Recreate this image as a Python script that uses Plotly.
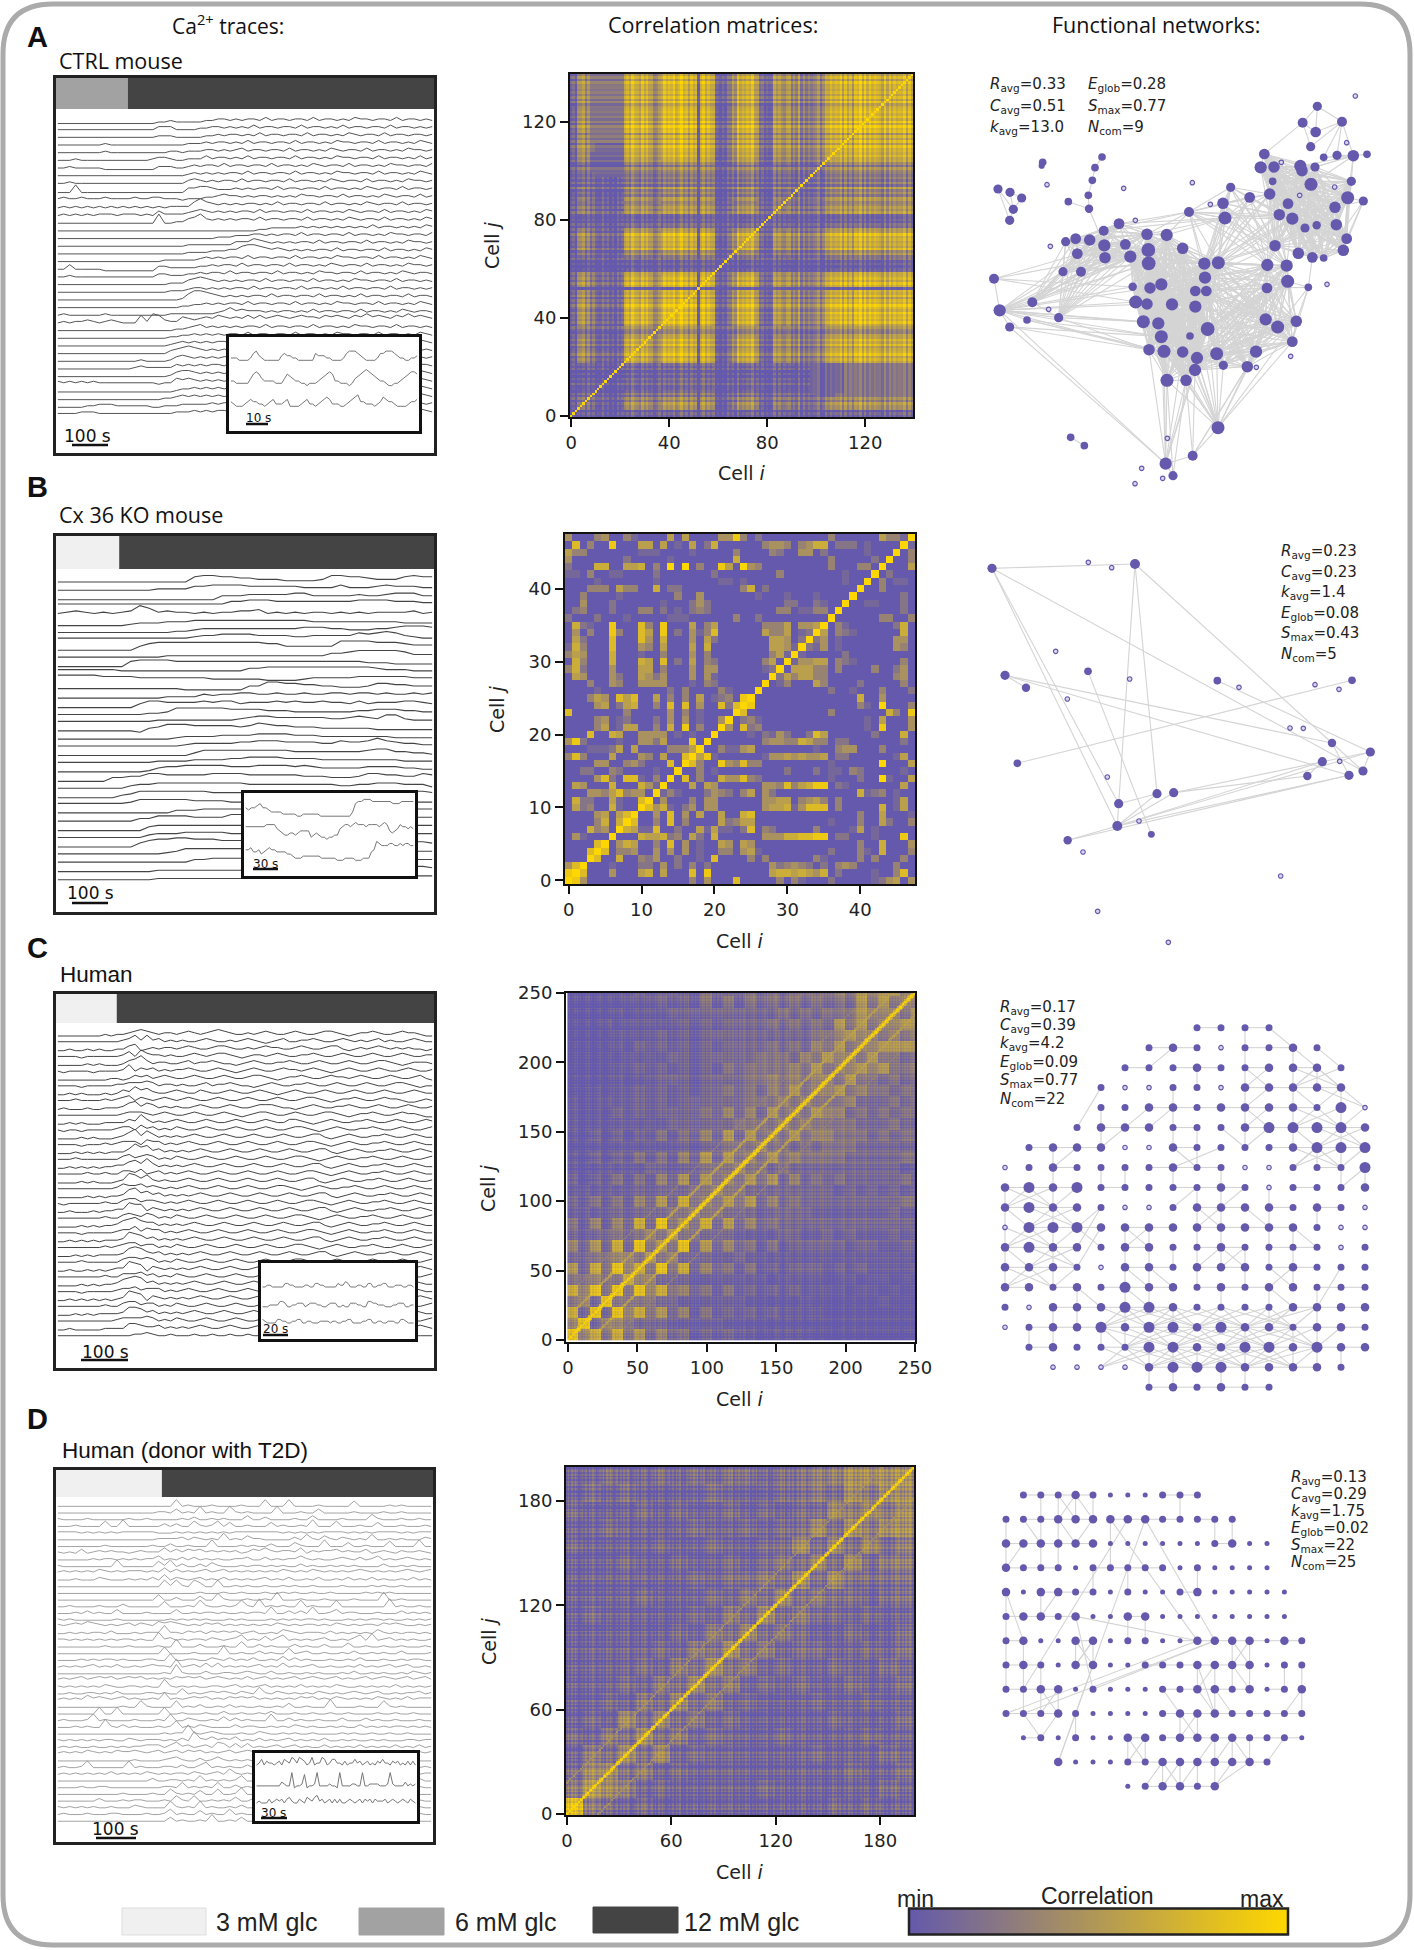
"""Islet Ca2+ traces, correlation matrices and functional networks."""

import numpy as np
import plotly.graph_objects as go

W, H = 1414, 1950
PURPLE = "#6459AC"
GOLD = "#FFD700"
EDGE = "#D4D4D4"
GLC_COLORS = {3: "#F0F0F0", 6: "#A2A2A2", 12: "#444444"}

# ---- Ca2+ traces, one digit string per cell, digit = signal level
TRACES_A = [
    "1111111111111111122322222334434344353443443534434354434435344343",
    "2222222222222222244422223344343435344344353443435344344353443434",
    "2222222222222222233322222334344343534434435344343543443534434434",
    "2222222232222222222222333434434353443443534434354434435344343543",
    "2222222232222222222332333443434534434435344343543443534434354434",
    "2223222222222222344322333534434353443443534434354434435344343534",
    "2232222211111111133322343443534434435344343543443534434354434435",
    "2222222222222222222222343434344353443443534434354434435344343543",
    "2232222222222222222222454343443534434435344343543443534434354434",
    "1116111111111111111111445543334343443534434435344343543443534434",
    "2322322232222322332221222334544343443434354434435344343543443534",
    "1212121212121212121222257543434344343534434435344343543443534434",
    "1212121222122212142222345434343443534434435344343543443534434354",
    "1111111111111111171122457434343443534434435344343543443534434354",
    "1111111111111111111111111111111111223333343434343434353443434354",
    "1111111111111111111111111112223334434344353443443534434354434435",
    "1111111111111111111111222222224446543434344353443443534434354434",
    "1111111111111111111111222233344677654543434344353443443534434354",
    "1111111111111111112222223434344353443443534434354434435344343543",
    "1141111100000000033222223343443534434435344343543443534434354434",
    "1121111111111111133222334344353443443534434354434435344343543443",
    "1111111111111111111222456543434344353443443534434354434435344343",
    "1111111111111111111222344343434435344344353443435344344353443434",
    "1111111111111111111112577654343434435344344353443435344344353443",
    "1111111111111111111112233434344353443443534434354434435344343543",
    "1211111121111111111222222223464544434344343534434435344343543443",
    "1212232123211162763225434546545464645654565546565465756546575654",
    "1111111111111111111122345343434344353443443534434354434435344343",
    "1111111111111111111223343434344353443443534434354434435344343543",
    "1111111111111111111234343434434353443443534434354434435344343543",
    "1111111111111111111345654343434344353443443534434354434435344343",
    "1111111111111121111245434343443534434435344343543443534434354434",
    "1111111111111232222243434344353443443534434354434435344343543443",
    "1111111111111111111245543434344353443443534434354434435344343543",
    "3232323222222222212254543434344353443443534434354434435344343543",
    "1111111111111111111123343434344353443443534434354434435344343543",
    "1111111111111111112234343434344353443443534434354434435344343543",
    "1111122333222222112223333343443534434435344343543443534434354434",
    "2222333222222222222233343434434353443443534434354434435344343543",
]
TRACES_B = [
    "222222222222222677665544433334776654446766",
    "222222222223333556666555555444464445655544",
    "111111111111111111444555556644444544566644",
    "444444444444444444466777666666666777766655",
    "345434345974544343445563434344343434444534",
    "000000001222333444444444444433333333332222",
    "111111111111122344444444444555443334456665",
    "333333333333333455666655554455555767875433",
    "000000000356666666666665533333377776665444",
    "111111111111222222222222222222445666665333",
    "000000004555544444444444444444444433322222",
    "444444433333333333333556666666666665444333",
    "666665555444444443333332222344444555555444",
    "222222222222221111111447766554433346655444",
    "111111111111222243445544544544554554544545",
    "000000000355444454553444545445443534445543",
    "111111111122366666655554443333333445554433",
    "222222222223333333334566555555445654774333",
    "111111111034666555554576554443333332222222",
    "111111111111123333444455554443333333322222",
    "222222222222223444445566655554465568654433",
    "111111111111111355555555554444444456644332",
    "222222222223333444455666655554444444443333",
    "111111111124556666655566665654444455554433",
    "000000334466555556666555555444333466554465",
    "111111113445555555555444444444433445554442",
    "000000023555555554444444444445555444445554",
    "222222223555555444433333333333333333333333",
    "111111111111133344444444555554444444444444",
    "111111111335555444466555444444444444444444",
    "000000000034444444444444444444444444444444",
    "111111111134445555544444444444444444444444",
    "000000000356677666555555554444444444444443",
    "111111111111235555555555444444444433333333",
    "111111111111111334444444444444444433333333",
    "000000000001111111111111134566555444444443",
    "000000000001111111111111113344444444433333",
]
TRACES_C = [
    "2222222232334565434434543456543343454334543345543234454334544322",
    "3333333333345747453434334543343454323453344543345434345343345433",
    "2232232322335623434434543345543343454433454334553234345434343323",
    "3333233333346375443433454345543234434543344543345433454334543344",
    "2222232322235685344334534454332345433445433454334543345543234443",
    "3233332333347354534344543345432345433454434543234543345433454334",
    "2222222223323545345433454334543345543234454334544345433454334532",
    "3333233333445556534434334534454332345433445433454334543345543233",
    "2232322232354756433454335433454334543234543345433454334543345433",
    "3334333343456354345434543345433454334543345543234454334544322343",
    "2322232233346746534343345433454334555433234543344543345433454334",
    "3333333333345554345433454334543234554334543345543234454334544322",
    "2232322233335485343454334543345433454335543234543344543345433454",
    "3233233333455364534354334543345433454334554323454334454334543345",
    "2222323222346847534343454334543345433454334553234543344543345433",
    "3333233343455536553434543345433454334543345543234543344543345433",
    "2223232323335867453434345433454334543345433455323454334454334543",
    "3334333333356456534354334543345433454334554323454334454334543345",
    "2232323233446758534343454334543345433454334553234543344543345433",
    "3333343343355463453434543345433454334543345543234543344543345433",
    "2222323222348757434334543345433454334543345532345433445433454334",
    "3333333333465564543434543345433454334554323454334454334543345433",
    "2222232323347856453434345433454334543345433455323454334454334543",
    "3233333343356645543434543345433454334543345543234543344543345433",
    "2232223233448773543434345433454334543345433455323454334454334543",
    "3333333343356546534354334543345433454334554323454334454334543345",
    "2222323233467865534343454334543345433454334553234543344543345433",
    "3333233333455746553434543345433454334543345543234543344543345433",
    "2232323233348764534343454334543345433454334553234543344543345433",
    "3333333343456645534354334543345433454334554323454334454334543345",
    "2223232333347875453434345433454334543345433455323454334454334543",
    "3333433333356656534354334543345433454334554323454334454334543345",
    "2232232323448762543434345433454334543345433455323454334454334543",
    "3333333343355564534354334543345433454334554323454334454334543345",
    "2222323233467874534343454334543345433454334553234543344543345433",
    "3333233333455645553434543345433454334543345543234543344543345433",
    "2232323232348762543434345433454334543345433455323454334454334543",
    "3333333343356645534354334543345433454334554323454334454334543345",
    "2223232333347764534343454334543345433454334553234543344543345433",
    "3333333333455556534354334543345433454334554323454334454334543345",
    "2232222233336654453434345433454334543345433455323454334454334543",
    "3333333333333445433433343343343343343343343343343343343343343333",
]
TRACES_D = [
    "1111111111111111111161211121111211161116111121111151111121211111",
    "1111111111111111122141216121162121111611121141111121111211211111",
    "2111121111112112111112131121211141131111211411112111152111211211",
    "1112111151161111113131152125141121114121121611151112114111211121",
    "2222121212122222211121212121212222222212121212222121212222121222",
    "1111111111111111122223132121612142211111315214213212151121211132",
    "1111111121111111211311211161111212113111421116111411211151111611",
    "2121412323221232225242434232323124353233251323342322412321322321",
    "1111112122121212241213131212112231131212242121123213124121232121",
    "2111111111611111152613113142111212212121131211212121111311212111",
    "2323232432323332325242323423423232323243232432323234323232343234",
    "1112111321112121315132123121312121231213112131121312131211213121",
    "1111111111111111116262164116112121121121211211112111121211211111",
    "1111111111111111111111112111211211121121211211211111212121111111",
    "1111111111111111151131114116211121121711121112111121111711211111",
    "1121111211131111115111216211212621712121161211161111111171211211",
    "1112131211411112111141121221211212216113131611241221112111312121",
    "2121111111211111111212121211121211112121212212111212122121121212",
    "3234354323234243254543232434232323232432323323243232332434322323",
    "1121212213111212227221323132323123112143212221312121214212122121",
    "2212121212122121172312122132123512141351212123112135161231212112",
    "1111111121112111121171113111211511312111312113111411211211211121",
    "1111111111111111116111121111711211312115123112112131121211311112",
    "1111212122121112211611221132131213112141312111211213111211212211",
    "1212123121311212322171231414121212312141212311211213121231231121",
    "1111111111111111112182111311221232113112112121112131121211213212",
    "2323423434234342323243434234323242342323423432342323423432342342",
    "2121212132112212117212121122123121231212131212132112121213121212",
    "1121122121311112212115121232321321621321212132121232123112122312",
    "2323253432342322327232343423243434232323243423243232324323242333",
    "1111111111121162111161213112131211211214112111711112111621211111",
    "1111111611611111116112111211311211213111211211211211112112112111",
    "1211126121111211121611321121413121116113121121113111312112111211",
    "1112121172131211121261213211113122112121321211212113121212212121",
    "1111111111111111112122821232111211321121211211112121121121121111",
    "2121212122113212221213183242324121312123121213112121121211122122",
    "1212112112121223331352312315414141212312312113121213121213121312",
    "2323243232433432342342434232342343432323234234323232432323234323",
    "1111111111111211112342113124212121312132112121131212113121212111",
    "1211261111116121112213113512121131212121521121231312121213112121",
    "1212121213121213212122132123152121212321213121312123112131212122",
    "1111111111111111311221215121212511211131121211212131211213211311",
    "1111211221111111112215121215113121511212512123123121125121211211",
    "1111111111121111211521214115112611211211511216121151111231211111",
    "1111111311121221112152151121214113112151212151121311123112111211",
    "2121212112111321111621216121121311251131216121211512121312121211",
    "1211121112211112112512114121151211215112612112511212125121121211",
    "1111111111111111111412112161121411611216121115121121611211211111",
]

# three enlarged traces of each inset
INSET_A = [
    "3332222356432222224544332222225444332222356665432222355666543322334",
    "3322222467643333222465433221222345676332221245678765433211223456776",
    "4322234544332345333452222345332345653332234567443332346544322223445",
]
INSET_B = [
    "54556755433332222211222222111111111113788999888888877788888",
    "66666666777754322332344441232110112256776787776777767874345766565",
    "55644534565544443321112222222111111000111100011145987778877878877",
]
INSET_C = [
    "3344333335544333344335544333335446533344335533445533344433443",
    "2223333554223344423444332234442232244433225544333222334442233",
    "5433335544334455334433344443443344553333445533443344433554333",
]
INSET_D = [
    "3463544345365476476534734476346644353446453453435464435453435353",
    "2222222222432291223812239222232219222233229223333222393222242323",
    "3433353454535643354365467453453535334543453545354445345434543543",
]

# ---- glucose protocol: (sample where it switches, first level, second level)
GLC_A = (11.4, 6, 12)
GLC_B = (10.0, 3, 12)
GLC_C = (9.6, 3, 12)
GLC_D = (17.0, 3, 12)

# ---- correlation matrices
# A: per-cell activity level read along the axis as (run length, level)
LEVEL_A = [(3, 1), (1, 5), (2, 6), (1, 5), (1, 4), (1, 2), (2, 3), (3, 1), (4, 2), (4, 1),
           (10, 8), (1, 7), (1, 6), (1, 5), (2, 4), (10, 9), (5, 8), (1, 1), (5, 8), (1, 6),
           (1, 3), (5, 1), (1, 3), (1, 5), (1, 6), (8, 8), (1, 5), (1, 3), (5, 1), (1, 5),
           (1, 7), (1, 5), (1, 6), (1, 3), (1, 7), (1, 6), (1, 3), (3, 5), (1, 3), (5, 3),
           (3, 4), (2, 6), (10, 8), (1, 6), (10, 9), (14, 8)]
STRIPE_A = ("4725361847254936152847362954183746259173648259371846259374815263"
            "9471825364917283645918273645192837465912837465918273649182736451"
            "928374659182736")
# darker rectangles of A: cell i from, to, cell j from, to, value
PATCHES_A = [(100, 140, 8, 22, 0.20), (100, 108, 8, 22, 0.08), (98, 112, 10, 22, 0.08)]

# B: off-diagonal cells per row j, "i:level"
ROWS_B = {
    47: "0:4 4:3 5:4 8:3 9:1 14:5 16:5 21:4 22:4 23:8 24:3 26:2 36:3 43:5 44:3 45:3 46:1",
    46: "1:7 3:3 6:8 10:5 11:5 13:5 15:1 17:5 19:2 20:6 27:3 28:4 29:4 30:3 32:3 33:4 34:6 35:6 37:2 38:2 39:2 41:1",
    45: "0:5 1:3 2:3 10:1 11:1 12:1 17:1 23:3 28:3 29:2 32:4 33:4 35:2 41:1",
    44: "0:4 8:2 14:1 23:6 36:3 42:2",
    43: "0:2 4:6 5:6 8:5 9:5 10:6 12:3 14:9 16:9 18:3 21:8 22:5 24:9 25:4 26:3 36:3 40:3 41:3",
    42: "0:1 1:1 3:3 6:1 7:1 12:2 20:2 29:3 38:1",
    41: "4:1 12:1 21:1 22:1 24:1 38:1",
    40: "3:3 4:3 5:3 7:5 8:3 9:3 12:6 14:2 15:2 24:3 25:6 27:2",
    39: "2:3 7:1 15:3 18:4 26:1 30:1 34:1",
    38: "2:4 6:2 13:1 17:2 18:4 19:2 30:2 31:2 34:2 35:1",
    37: "1:2 2:3 6:2 10:3 11:3 13:2 15:1 17:2 18:3 19:2 29:3 30:3 32:1 33:1 34:3 35:3",
    36: "0:2 4:2 8:1 14:1 15:1 16:1 23:3 26:2",
    35: "1:6 2:2 3:1 6:8 10:7 11:3 13:8 17:5 19:3 20:5 27:3 28:3 29:3 30:5 32:4 33:4 34:5",
    34: "1:4 3:3 6:8 7:3 10:7 11:5 13:8 15:2 17:4 18:1 19:3 20:7 27:5 28:3 29:3 30:5 32:1 33:2",
    33: "1:5 2:2 6:7 10:7 11:4 13:6 17:4 19:5 20:2 28:5 29:5 30:4 32:2",
    32: "0:1 1:6 2:3 6:7 10:4 11:3 13:5 17:5 19:6 28:5 29:5 30:4 31:1",
    31: "0:3 1:5 2:4 6:6 10:1 13:3 17:4 19:3 28:3 29:5 30:1",
    30: "1:6 2:3 6:6 10:6 11:5 13:7 15:2 17:5 19:3 20:2 27:3 28:5",
    29: "0:3 1:6 2:2 6:4 10:5 11:5 13:3 17:4 19:4 20:4 27:1 28:2",
    28: "1:5 2:4 6:4 7:2 10:5 11:4 12:2 13:4 17:4 19:4 20:1",
    27: "3:3 6:4 7:3 10:4 11:4 12:4 13:4 17:1 19:3 20:2",
    26: "4:1 14:2 16:3 21:3 22:1",
    25: "3:3 4:5 5:4 7:7 8:5 9:7 12:5 14:3 16:3 18:5 20:1 21:2 22:3 24:8",
    24: "4:4 5:5 7:2 8:5 9:6 12:3 14:7 16:7 18:4 21:7 22:2 23:7",
    23: "0:7 8:3 14:4 16:3 18:1",
    22: "4:3 5:4 7:1 8:2 12:2 14:4 16:4 18:1 21:4",
    21: "4:3 5:5 7:1 8:5 9:5 12:3 14:6 16:8 18:3",
    20: "3:7 6:6 7:5 10:4 11:4 12:4 13:4 15:1 17:1",
    19: "0:4 1:8 2:2 7:1 10:4 11:4 12:2 13:5 17:8",
    18: "3:1 4:1 5:1 6:2 7:5 9:5 14:3 15:3 16:3 17:5",
    17: "0:3 1:7 2:3 6:5 10:4 11:3 13:5 16:7",
    16: "4:4 5:4 8:3 9:4 10:2 14:7",
    15: "2:2 3:2 6:3 7:2 12:1",
    14: "4:4 5:7 6:2 8:7 9:7 10:1 12:3",
    13: "1:5 2:4 6:6 10:6 11:4 12:1",
    12: "3:4 4:4 5:3 6:5 7:7 8:3 9:4 10:4",
    11: "1:6 2:2 3:2 6:5 7:1 10:7",
    10: "1:5 2:2 3:3 6:6 7:1",
    9: "4:4 5:5 7:5 8:7",
    8: "4:3 5:6 7:6",
    7: "3:6 4:3 5:4",
    6: "1:4 2:1",
    5: "4:7",
    4: "3:7",
    2: "0:4 1:7",
    1: "0:8",
}

# C: lower triangle of 8-cell blocks
BLOCKS_C = [
    "8", "58", "738", "4538", "75848", "445447", "6374857", "33445546",
    "536373846", "3233434546", "42525373846", "222232333445", "3242425363745",
    "22222232333445", "313242425363645", "2122222332334445", "21313242425363645",
    "112122222232334445", "2131313242435363645", "21212222233333344445",
    "212132323333435353645", "2122223232333333444545", "11212232323233434354645",
    "111121223332333344545455", "1111223232323243444454645", "11111222233233333444354655",
    "111121323232323333434354645", "1111222232323333333333445655", "11121222223232333343434364645",
    "111121222333333333343434446555", "1111122232324242434343434364645", "11112232333243334343444454656655",
]
STRIPE_C = ("3615274836152748261537482615374826153748261537482637154826371548"
            "2637154826371548265174382651743826517438265174382651743826517438"
            "7261548372615483726154837261548372615483726154837261548372615483"
            "15263748152637481526374815263748152637481526374815263748")
# extra correlation along the sub-diagonals: distance from the diagonal, level
RIDGE_C = {1: 0.90, 2: 0.75, 15: 0.50, 16: 0.66, 17: 0.50, 32: 0.34}

# D: lower triangle of 10-cell blocks
BLOCKS_D = [
    "8", "46", "355", "2435", "32435", "232535", "2232435", "22232435", "222232435",
    "2222232435", "22222232435", "232222232435", "2222322232435", "22222223233435",
    "222322322323435", "3222232232233535", "22322223223233535", "322232322323233545",
    "2323222232223343545", "22322323233233445555",
]
STRIPE_D = ("2718495036271849503627184950362718495036271849503627184950362718"
            "4905172638490517263849051726384905172638490517263849051726384905"
            "8160372958160372958160372958160372958160372958160372958160372958")
RIDGE_D = {1: 0.80, 18: 0.50}

# ---- networks: layout position, node radius
NODES_A_X = [1102, 1058, 1097, 1176, 1082, 1121, 1161, 1210, 1251, 943, 932, 972, 1051, 1056, 1095, 968,
             1083, 1204, 842, 899, 959, 1193, 1240, 819, 717, 825, 1014, 988, 1027, 1155, 1065, 1100,
             1159, 1190, 1180, 975, 1045, 1087, 1121, 952, 1010, 1013, 951, 1075, 947, 983, 1039, 1027,
             918, 892, 820, 800, 773, 720, 736, 666, 736, 769, 765, 763, 805, 698, 650, 591, 595, 596,
             541, 526, 465, 463, 419, 377, 347, 382, 339, 393, 461, 507, 548, 600, 634, 557, 591, 580,
             625, 634, 597, 642, 698, 741, 735, 651, 708, 804, 728, 647, 669, 132, 149, 247, 231, 179,
             326, 362, 403, 144, 180, 215, 190, 179, 278, 275, 456, 435, 427, 415, 355, 417]
NODES_A_Y = [199, 248, 276, 245, 320, 352, 346, 347, 343, 342, 382, 381, 378, 392, 381, 424,
             433, 424, 442, 472, 462, 473, 483, 490, 516, 534, 491, 524, 536, 502, 564, 556,
             554, 596, 631, 617, 640, 652, 654, 675, 677, 724, 744, 742, 838, 861, 844, 905,
             935, 980, 976, 941, 867, 888, 800, 793, 753, 753, 713, 671, 668, 625, 585, 583, 630, 670,
             650, 613, 653, 616, 600, 596, 605, 641, 695, 695, 572, 551, 740, 744, 733, 786, 792, 845,
             850, 890, 929, 934, 936, 954, 990, 1021, 1021, 1163, 1247, 1271, 1307, 716, 811, 787, 840, 861,
             833, 1192, 1217, 447, 457, 474, 508, 541, 367, 377, 351, 383, 421, 466, 485, 506]
NODES_A_R = [12, 13, 14, 13, 12, 10, 12, 15, 10, 14, 16, 15, 16, 15, 12, 10,
             17, 12, 12, 14, 15, 17, 12, 15, 13, 17, 14, 15, 16, 15, 12, 11,
             15, 14, 15, 15, 15, 14, 10, 16, 16, 17, 14, 10, 16, 17, 15, 14,
             16, 15, 12, 17, 18, 10, 16, 16, 14, 14, 16, 16, 17, 15, 16, 15, 18, 18,
             16, 14, 15, 16, 15, 14, 12, 14, 12, 13, 13, 14, 11, 15, 16, 17, 15, 17,
             16, 17, 15, 17, 15, 16, 16, 17, 15, 17, 13, 16, 12, 13, 16, 13, 10, 12,
             12, 10, 10, 12, 12, 12, 12, 12, 10, 8, 10, 10, 10, 10, 10, 11]
ISOLATED_A_X = [1216, 1190, 994, 1154, 1049, 727, 781, 521, 556, 291, 301, 296, 1131, 1022, 919, 652, 575, 638, 555]
ISOLATED_A_Y = [168, 308, 367, 441, 466, 428, 493, 445, 541, 434, 619, 808, 733, 949, 982, 1195, 1285, 1315, 1331]
# groups of nodes that are all linked to one another
GROUPS_A = [
    [59, 60, 61, 62, 63, 64, 65, 66, 79, 80, 81, 82, 83, 84, 85, 86, 87, 88, 89, 90, 91, 92, 54, 55, 56, 57, 58, 52, 53, 78],
    [39, 40, 41, 42, 44, 45, 46, 47, 48, 49, 50, 51, 52, 54, 56, 57, 58, 59, 60, 88, 89, 90],
    [9, 10, 11, 12, 13, 14, 15, 16, 20, 26, 27, 28, 29, 30, 31, 32, 33, 34, 35, 36, 37, 38, 21, 17],
    [23, 25, 19, 24, 18, 60, 59, 58, 39, 40, 35, 27, 28, 20],
    [69, 68, 70, 71, 72, 73, 76, 77, 67, 66, 64, 63, 65, 74, 75, 99, 102],
    [77, 24, 62, 63, 25, 76], [42, 43, 41, 45, 46, 47], [29, 33, 34, 38, 22, 21],
]
# hub, then the nodes it is linked to
STARS_A = {
    98: [97, 99, 100, 101, 102, 66, 81, 82, 78, 79, 83, 84, 85, 86, 65, 64, 73, 74, 75, 95],
    97: [63, 64, 79, 81], 101: [95, 86, 85], 100: [86, 87, 85], 102: [86, 83],
    93: [51, 52, 53, 87, 88, 89, 90, 91, 92, 50, 49, 48, 47, 46, 54, 85, 55],
    95: [91, 92, 87, 88, 86, 89, 90, 96, 94, 85], 96: [92, 91], 94: [93, 48, 49, 90, 92],
    7: [3, 5, 6, 8, 12, 13, 14, 16, 17, 21], 0: [1, 2, 3], 1: [2, 4, 9], 3: [2, 4, 5, 6],
    105: [109, 108], 106: [108, 107], 108: [107, 109], 103: [104], 110: [111],
    113: [112, 114], 115: [114, 117], 116: [117], 117: [69], 43: [37],
}

NODES_B_X = [126, 555, 165, 228, 414, 202, 802, 1206, 1146, 1261, 1117, 1239, 1197, 1072, 671, 621, 506, 502, 353, 604]
NODES_B_Y = [145, 132, 466, 503, 454, 730, 482, 481, 669, 696, 725, 753, 766, 768, 818, 821, 851, 918, 961, 943]
NODES_B_R = [12, 13, 12, 11, 10, 10, 10, 10, 11, 12, 12, 12, 12, 11, 12, 12, 12, 13, 11, 9]
ISOLATED_B_X = [415, 485, 317, 539, 352, 867, 1095, 1167, 1020, 1060, 1169, 472, 567, 399, 992, 443, 655]
ISOLATED_B_Y = [127, 143, 394, 477, 537, 502, 494, 508, 624, 625, 724, 771, 903, 996, 1068, 1174, 1267]
EDGES_B = [(0, 1), (0, 17), (0, 16), (0, 11), (1, 16), (1, 15), (1, 8), (2, 3), (2, 8), (2, 12), (4, 19), (5, 7),
           (6, 9), (8, 11), (8, 12), (9, 11), (14, 10), (14, 13), (10, 9), (15, 16), (15, 17), (14, 17),
           (17, 10), (17, 12), (17, 9), (18, 17), (18, 12), (16, 17), (13, 10)]

# C and D: cells sit on a grid. digit = node size, o = unconnected, . = none
GRID_C = [
    "........2222....", "......232o2232..", ".....2223223332.", "....2oo22o33333.",
    "....22332333324o", "...2333222344443", ".2333oo322223444", "o232222322oo2224",
    "34342222232o2223", "34332oo23333232o", "o4443333333332oo", "34332332232222o2",
    "3332o33233323222", "3323243323233222", "2o33344322223333", "o233434434332332",
    ".232224433443433", "..oooo344433332.", "......232322....",
]
LINKS_H_C = [
    "........-.-....", "......--..--...", ".....-.--.-.-..", "..........----.", "......-------..",
    "....--.-..-----", ".---...-...----", "..-...---....-.", "---.-..---..-..", "---.....--.-.-.",
    ".---.--.----...", "---..-..--.--..", "---..--.--.--..", "-.-.---.---..--", "..-----.....---",
    ".--------------", ".-..--.--------", "......-------..", "......-----....",
]
LINKS_V_C = [
    "..........|.....", "..........|.|...", "........|.|.||..", ".......|..|.|.|.", "....|..|..|.|.|.",
    "....|..||.|.|.|.", "..|.....|....||.", "..|.||.|.|.....|", "|.|.....||.|....", "|.|.....||.|.|..",
    "|.|..||.||.||...", "|.|..||||||||...", "|.|..||.|.|.|...", "...|.||..|.|.|..", "..||.|.|...|.|..",
    ".||.||....|.||..", "......|||.|.||||", "......||.||.|...",
]
# densely linked areas: row from, to, column from, to, column reach of a link
DENSE_C = [(8, 13, 0, 3, 2), (2, 7, 12, 15, 2), (14, 17, 4, 13, 3), (1, 3, 12, 14, 1), (9, 11, 3, 4, 1)]
LINKS_D_C = [
    ((3, 4), (5, 3)), ((0, 11), (1, 12)), ((1, 13), (2, 14)), ((2, 10), (3, 11)), ((2, 11), (3, 10)),
    ((3, 11), (4, 10)), ((4, 10), (5, 11)), ((4, 11), (5, 10)), ((1, 7), (2, 6)), ((4, 6), (5, 5)),
    ((4, 7), (5, 6)), ((5, 5), (6, 4)), ((6, 3), (7, 2)), ((6, 10), (5, 9)), ((6, 10), (5, 11)),
    ((6, 7), (7, 8)), ((6, 9), (7, 7)), ((8, 8), (9, 7)), ((8, 10), (9, 9)), ((9, 8), (10, 9)),
    ((9, 9), (10, 8)), ((9, 10), (10, 11)), ((9, 4), (11, 3)), ((10, 4), (12, 3)), ((10, 5), (11, 6)),
    ((10, 6), (11, 5)), ((12, 5), (13, 6)), ((12, 6), (13, 7)), ((12, 8), (11, 9)), ((11, 9), (12, 10)),
    ((11, 10), (12, 9)), ((12, 11), (13, 12)), ((13, 11), (14, 12)), ((12, 12), (13, 11)),
    ((10, 12), (11, 13)), ((12, 14), (14, 13)), ((13, 3), (14, 4)), ((13, 5), (14, 6)), ((14, 12), (15, 11)),
    ((7, 12), (6, 13)), ((7, 14), (8, 14)), ((8, 14), (7, 15)), ((15, 14), (16, 13)),
]

GRID_D = [
    ".22232111222......", "22233333322222....", "3333331111112311..",
    "3222122222121111..", "31332212112311111.", "23323113311111111.", "231133122113333132",
    "232133112223333122", "223312111223323123", "222321111233322222", ".12121133233332221",
    "...3111223333332..", ".......123323.....",
]
LINKS_H_D = [
    ".----....--......", ".----.----.-.....", "-----.......-....", "---..----........", "..---.....-......",
    "----...-.........", "-...-.....-------", "--..-...------...", "---......-----.-.", "---......--------",
    ".-.....-.--------", ".......--------..", "........----.....",
]
LINKS_V_D = [
    "..||||....|.......", "|.||..|.....||....", "|.||..|...........", ".....|.|...|......",
    "|.|...............", "|......||.........", "||..||.......||...", "|||........||||.||",
    ".|||........|....|", "....|.....||......", ".......||...|||.|.", ".........||||.....",
]
LINKS_D_D = [
    ((1, 7), (8, 1)), ((1, 8), (11, 3)), ((1, 6), (6, 11)), ((1, 8), (6, 12)), ((5, 4), (6, 11)),
    ((9, 0), (6, 11)), ((9, 1), (6, 12)), ((8, 5), (6, 12)), ((5, 4), (8, 5)), ((7, 4), (6, 5)),
    ((0, 3), (1, 4)), ((0, 4), (1, 3)), ((0, 4), (1, 5)), ((1, 3), (2, 4)), ((1, 5), (2, 4)),
    ((1, 1), (2, 2)), ((2, 1), (3, 0)), ((4, 0), (6, 1)), ((4, 3), (5, 2)), ((6, 13), (7, 14)),
    ((6, 14), (7, 13)), ((7, 13), (8, 14)), ((7, 11), (9, 12)), ((7, 12), (8, 11)), ((8, 11), (9, 12)),
    ((8, 9), (9, 10)), ((8, 12), (9, 13)), ((9, 10), (10, 11)), ((9, 11), (10, 10)), ((9, 1), (10, 2)),
    ((9, 3), (10, 2)), ((8, 2), (9, 3)), ((8, 3), (9, 2)), ((8, 17), (9, 16)), ((10, 7), (11, 8)),
    ((10, 8), (11, 7)), ((10, 16), (11, 15)), ((10, 12), (11, 11)), ((10, 13), (11, 14)), ((10, 13), (11, 12)),
    ((11, 9), (12, 8)), ((11, 9), (12, 10)), ((11, 10), (12, 9)), ((11, 11), (12, 10)), ((11, 13), (12, 12)),
    ((11, 14), (12, 12)), ((6, 4), (7, 5)), ((6, 5), (7, 4)), ((7, 5), (11, 3)),
]

GRID_SIZES = {"1": 5, "2": 7, "3": 8.5, "4": 11}
TICKS_A = [0, 40, 80, 120]
TICKS_B = [0, 10, 20, 30, 40]
TICKS_C = [0, 50, 100, 150, 200, 250]
TICKS_D = [0, 60, 120, 180]

STATS_A = [["R", "avg", "0.33"], ["C", "avg", "0.51"], ["k", "avg", "13.0"],
           ["E", "glob", "0.28"], ["S", "max", "0.77"], ["N", "com", "9"]]
STATS_B = [["R", "avg", "0.23"], ["C", "avg", "0.23"], ["k", "avg", "1.4"],
           ["E", "glob", "0.08"], ["S", "max", "0.43"], ["N", "com", "5"]]
STATS_C = [["R", "avg", "0.17"], ["C", "avg", "0.39"], ["k", "avg", "4.2"],
           ["E", "glob", "0.09"], ["S", "max", "0.77"], ["N", "com", "22"]]
STATS_D = [["R", "avg", "0.13"], ["C", "avg", "0.29"], ["k", "avg", "1.75"],
           ["E", "glob", "0.02"], ["S", "max", "22"], ["N", "com", "25"]]

fig = go.Figure()
axis_count = 0


def add_axes(box, xrange, yrange, **kw):
    """New axis pair on a pixel box (left, top, right, bottom)."""
    global axis_count
    axis_count += 1
    n = axis_count
    left, top, right, bottom = box
    base = dict(showgrid=False, zeroline=False, showticklabels=False, ticks="", showline=False)
    base.update(kw)
    fig.layout[f"xaxis{n}"] = dict(base, domain=[left / W, right / W], range=xrange, anchor=f"y{n}")
    fig.layout[f"yaxis{n}"] = dict(base, domain=[1 - bottom / H, 1 - top / H], range=yrange, anchor=f"x{n}")
    return f"x{n}", f"y{n}"


def text(x, y, s, size=14, font="DejaVu Sans", color="#111111", anchor="left", angle=0):
    fig.add_annotation(x=x / W, y=1 - y / H, xref="paper", yref="paper", text=s, showarrow=False,
                       xanchor=anchor, yanchor="middle", textangle=angle,
                       font=dict(size=size, family=font, color=color))


def segment(x0, x1, y, width=2.5):
    fig.add_shape(type="line", xref="paper", yref="paper", x0=x0 / W, x1=x1 / W, y0=1 - y / H, y1=1 - y / H,
                  line=dict(color="#111111", width=width))


def trace_panel(traces, box, first_y, spacing, unit, glc, bar_bottom, color, width):
    """Stacked traces in a framed box, y axis counts traces from the top."""
    left, top, right, bottom = box
    frame = dict(showline=True, mirror=True, linecolor="#222222", linewidth=3)
    ya_top = (top - first_y) / spacing
    ya_bottom = (bottom - first_y) / spacing
    xa, ya = add_axes(box, [-0.3, 61.3], [ya_bottom, ya_top], **frame)
    xs, ys = [], []
    for row, s in enumerate(traces):
        levels = np.array([int(c) for c in s], dtype=float)
        xs += list(np.linspace(0, 61, len(levels))) + [None]
        ys += list(row - (levels - 2) * unit) + [None]
    fig.add_trace(go.Scatter(x=xs, y=ys, mode="lines", xaxis=xa, yaxis=ya, hoverinfo="skip",
                             line=dict(color=color, width=width)))
    switch, first, second = glc
    bar_y = (bar_bottom - first_y) / spacing
    fig.add_shape(type="rect", xref=xa, yref=ya, x0=-0.3, x1=switch, y0=ya_top, y1=bar_y,
                  fillcolor=GLC_COLORS[first], line_width=0)
    fig.add_shape(type="rect", xref=xa, yref=ya, x0=switch, x1=61.3, y0=ya_top, y1=bar_y,
                  fillcolor=GLC_COLORS[second], line_width=0)


def inset(traces, box, first_y, gap, color="#777777"):
    left, top, right, bottom = box
    frame = dict(showline=True, mirror=True, linecolor="#111111", linewidth=2.5)
    xa, ya = add_axes(box, [-1, 101], [(bottom - first_y) / gap, (top - first_y) / gap], **frame)
    xs, ys = [], []
    for row, s in enumerate(traces):
        levels = np.array([int(c) for c in s], dtype=float)
        xs += list(np.linspace(0, 100, len(levels))) + [None]
        ys += list(row + 0.3 - levels * 0.1) + [None]
    fig.add_trace(go.Scatter(x=xs, y=ys, mode="lines", xaxis=xa, yaxis=ya, hoverinfo="skip",
                             line=dict(color=color, width=1)))


def tri_matrix(rows, block, n, stripe, ridge, k, gain):
    z = np.zeros((n, n))
    last = len(rows) - 1
    for j in range(n):
        for i in range(j + 1):
            r = min(j // block, last)
            c = min(i // block, last)
            row = rows[r]
            value = (int(row[min(c, len(row) - 1)]) / 9) ** gain
            value += k * (int(stripe[i % len(stripe)]) + int(stripe[j % len(stripe)]) - 9)
            d = j - i
            if d in ridge:
                value = max(value, ridge[d] * (0.72 + 0.035 * int(stripe[i % len(stripe)])))
            z[j, i] = z[i, j] = value
    np.fill_diagonal(z, 1)
    return np.clip(z, 0, 1)


def matrix_a():
    level = []
    for count, value in LEVEL_A:
        level += [value] * count
    n = len(level)
    z = np.zeros((n, n))
    for j in range(n):
        for i in range(j + 1):
            value = level[i] * level[j] / 100
            value += 0.04 * (int(STRIPE_A[i % len(STRIPE_A)]) + int(STRIPE_A[j % len(STRIPE_A)]) - 10)
            z[j, i] = z[i, j] = value
    for i0, i1, j0, j1, value in PATCHES_A:
        for i in range(i0, i1):
            for j in range(j0, j1):
                shade = value + 0.03 * (int(STRIPE_A[i % len(STRIPE_A)]) - 4)
                z[j, i] = z[i, j] = shade
    np.fill_diagonal(z, 1)
    return np.clip(z, 0, 1)


def matrix_b():
    n = 48
    z = np.zeros((n, n))
    for j, row in ROWS_B.items():
        for item in row.split():
            i, value = item.split(":")
            z[j, int(i)] = z[int(i), j] = int(value) / 9
    np.fill_diagonal(z, 1)
    return z


def matrix_panel(z, box, axis_range, ticks):
    style = dict(showline=True, mirror=True, linecolor="#111111", linewidth=2, showticklabels=True,
                 ticks="outside", ticklen=8, tickwidth=2, tickcolor="#111111", tickvals=ticks,
                 tickfont=dict(size=18, family="DejaVu Sans", color="#222222"))
    xa, ya = add_axes(box, axis_range, axis_range, **style)
    fig.add_trace(go.Heatmap(z=z, coloraxis="coloraxis", xaxis=xa, yaxis=ya, hoverinfo="skip"))


def network_lines(xa, ya, xs, ys):
    fig.add_trace(go.Scatter(x=xs, y=ys, mode="lines", xaxis=xa, yaxis=ya, hoverinfo="skip",
                             line=dict(color=EDGE, width=1.1)))


def network_nodes(xa, ya, xs, ys, sizes, hollow_x, hollow_y):
    fig.add_trace(go.Scatter(x=hollow_x, y=hollow_y, mode="markers", xaxis=xa, yaxis=ya, hoverinfo="skip",
                             marker=dict(size=4.5, color="#D8D5EC", line=dict(color=PURPLE, width=1.2))))
    fig.add_trace(go.Scatter(x=xs, y=ys, mode="markers", xaxis=xa, yaxis=ya, hoverinfo="skip",
                             marker=dict(size=sizes, color=PURPLE, opacity=1, line=dict(width=0))))


def free_network(box, node_x, node_y, node_r, iso_x, iso_y, pairs):
    xa, ya = add_axes(box, [0, (box[2] - box[0]) * 3], [(box[3] - box[1]) * 3, 0])
    xs, ys = [], []
    for a, b in pairs:
        xs += [node_x[a], node_x[b], None]
        ys += [node_y[a], node_y[b], None]
    network_lines(xa, ya, xs, ys)
    network_nodes(xa, ya, node_x, node_y, [2.3 * r / 3 for r in node_r], iso_x, iso_y)


def grid_network(box, x0, dx, y0, dy, grid, links_h, links_v, dense, diagonals):
    left, top, right, bottom = box
    xa, ya = add_axes(box, [(left - x0) / dx, (right - x0) / dx], [(bottom - y0) / dy, (top - y0) / dy])

    def there(r, c):
        return 0 <= r < len(grid) and 0 <= c < len(grid[r]) and grid[r][c] != "."

    pairs = list(diagonals)
    for r, row in enumerate(links_h):
        pairs += [((r, c), (r, c + 1)) for c, ch in enumerate(row) if ch == "-"]
    for r, row in enumerate(links_v):
        pairs += [((r, c), (r + 1, c)) for c, ch in enumerate(row) if ch == "|"]
    for r0, r1, c0, c1, reach in dense:
        for r in range(r0, r1):
            for c in range(c0, c1 + 1):
                for off in range(-reach, reach + 1):
                    if off and c0 <= c + off <= c1 and (r + c + off) % 2 == 0:
                        pairs.append(((r, c), (r + 1, c + off)))
    xs, ys = [], []
    for (r0, c0), (r1, c1) in pairs:
        if there(r0, c0) and there(r1, c1):
            xs += [c0, c1, None]
            ys += [r0, r1, None]
    network_lines(xa, ya, xs, ys)
    nx, ny, ns, hx, hy = [], [], [], [], []
    for r, row in enumerate(grid):
        for c, ch in enumerate(row):
            if ch == "o":
                hx.append(c)
                hy.append(r)
            elif ch != ".":
                nx.append(c)
                ny.append(r)
                ns.append(GRID_SIZES[ch])
    network_nodes(xa, ya, nx, ny, ns, hx, hy)


def stat_line(item):
    return f"<i>{item[0]}</i><sub>{item[1]}</sub>={item[2]}"


# ---- left column
trace_panel(TRACES_A, (56, 78, 434, 453), 122, 7.67, 0.2, GLC_A, 109, "#555555", 1)
inset(INSET_A, (229, 337, 419, 431), 358, 23)
trace_panel(TRACES_B, (56, 536, 434, 912), 582, 8.2, 0.16, GLC_B, 569, "#444444", 1.1)
inset(INSET_B, (244, 793, 415, 876), 812, 21)
trace_panel(TRACES_C, (56, 994, 434, 1368), 1036, 7.35, 0.22, GLC_C, 1023, "#444444", 1)
inset(INSET_C, (261, 1263, 415, 1339), 1287, 18)
trace_panel(TRACES_D, (56, 1470, 433, 1842), 1505, 6.7, 0.2, GLC_D, 1497, "#8A8A8A", 0.8)
inset(INSET_D, (255, 1753, 417, 1821), 1765, 19)

for cx, ty, x0, x1, by, s, size in [
    (87, 436, 72, 108, 445, "100 s", 17), (258, 418, 246, 268, 424, "10 s", 12),
    (90, 893, 72, 108, 903, "100 s", 17), (265, 864, 253, 278, 869, "30 s", 12),
    (106, 1352, 81, 128, 1360, "100 s", 17), (275, 1329, 263, 288, 1335, "20 s", 12),
    (115, 1829, 96, 136, 1838, "100 s", 17), (273, 1813, 261, 287, 1818, "30 s", 12),
]:
    text(cx, ty, s, size=size, anchor="center")
    segment(x0, x1, by)

# ---- middle column
matrix_panel(matrix_a(), (570, 74, 913, 417), [-0.5, 139.5], TICKS_A)
matrix_panel(matrix_b(), (565, 534, 915, 884), [-0.5, 47.5], TICKS_B)
matrix_panel(tri_matrix(BLOCKS_C, 8, 251, STRIPE_C, RIDGE_C, 0.022, 1.8), (566, 993, 915, 1342), [-1.5, 250], TICKS_C)
matrix_panel(tri_matrix(BLOCKS_D, 10, 200, STRIPE_D, RIDGE_D, 0.03, 1.6), (566, 1467, 914, 1815), [-0.5, 199.5], TICKS_D)

for x, y, s, angle in [
    (742, 473, "Cell <i>i</i>", 0), (492, 245, "Cell <i>j</i>", -90),
    (740, 941, "Cell <i>i</i>", 0), (497, 709, "Cell <i>j</i>", -90),
    (740, 1399, "Cell <i>i</i>", 0), (488, 1188, "Cell <i>j</i>", -90),
    (740, 1872, "Cell <i>i</i>", 0), (489, 1641, "Cell <i>j</i>", -90),
]:
    text(x, y, s, size=19, color="#222222", anchor="center", angle=angle)

# ---- right column
pairs_a = []
for group in GROUPS_A:
    pairs_a += [(a, b) for k, a in enumerate(group) for b in group[k + 1:]]
for hub, others in STARS_A.items():
    pairs_a += [(hub, b) for b in others]
free_network((950, 40, 1414, 500), NODES_A_X, NODES_A_Y, NODES_A_R, ISOLATED_A_X, ISOLATED_A_Y, pairs_a)
free_network((950, 520, 1414, 960), NODES_B_X, NODES_B_Y, NODES_B_R, ISOLATED_B_X, ISOLATED_B_Y, EDGES_B)
grid_network((970, 980, 1414, 1410), 1005, 24, 1027.7, 19.97, GRID_C, LINKS_H_C, LINKS_V_C, DENSE_C, LINKS_D_C)
grid_network((970, 1450, 1414, 1850), 1006, 17.4, 1495, 24.28, GRID_D, LINKS_H_D, LINKS_V_D, [], LINKS_D_D)

for k, item in enumerate(STATS_A):
    text(988 if k < 3 else 1086, 84 + 22 * (k % 3), stat_line(item), size=15, color="#222222")
for k, item in enumerate(STATS_B):
    text(1279, 552 + 20.4 * k, stat_line(item), size=15, color="#222222")
for k, item in enumerate(STATS_C):
    text(998, 1007 + 18.4 * k, stat_line(item), size=15, color="#222222")
for k, item in enumerate(STATS_D):
    text(1289, 1477 + 17 * k, stat_line(item), size=15, color="#222222")

# ---- headings
HEAD = "Open Sans"
text(228, 25, "Ca<sup>2+</sup> traces:", size=21, font=HEAD, anchor="center")
text(713, 25, "Correlation matrices:", size=21.5, font=HEAD, anchor="center")
text(1156, 25, "Functional networks:", size=21.5, font=HEAD, anchor="center")
for y, letter in [(37, "A"), (487, "B"), (948, "C"), (1419, "D")]:
    text(37, y, f"<b>{letter}</b>", size=29, font="Liberation Sans", anchor="center")
text(57, 60, "CTRL mouse", size=21.5, font=HEAD)
text(57, 515, "Cx 36 KO mouse", size=21.5, font=HEAD)
text(58, 974, "Human", size=22.5, font="Liberation Sans")
text(60, 1450, "Human (donor with T2D)", size=22.5, font="Liberation Sans")

# ---- glucose legend, correlation colour bar
xa, ya = add_axes((0, 1880, W, 1950), [0, W], [1950, 1880])
for x0, x1, y0, y1, level, label_x in [(122, 206, 1908, 1935, 3, 214), (359, 444, 1908, 1935, 6, 453),
                                       (593, 678, 1907, 1933, 12, 682)]:
    fig.add_shape(type="rect", xref=xa, yref=ya, x0=x0, x1=x1, y0=y0, y1=y1, fillcolor=GLC_COLORS[level],
                  line=dict(color="#DDDDDD" if level == 3 else GLC_COLORS[level], width=1))
    text(label_x, 1922, f"{level} mM glc", size=25, font="Liberation Sans", color="#222222")
text(915, 1899, "min", size=23, font="Liberation Sans", color="#222222", anchor="center")
text(1097, 1896, "Correlation", size=23, font="Liberation Sans", color="#222222", anchor="center")
text(1262, 1899, "max", size=23, font="Liberation Sans", color="#222222", anchor="center")

# outer rounded frame
b0, b1, t0, t1, r = 3 / W, 1410 / W, 1 - 4 / H, 1 - 1945 / H, 50
rx, ry = r / W, r / H
fig.add_shape(type="path", xref="paper", yref="paper", line=dict(color="#ABABAB", width=5),
              path=(f"M {b0 + rx},{t0} L {b1 - rx},{t0} Q {b1},{t0} {b1},{t0 - ry} L {b1},{t1 + ry} "
                    f"Q {b1},{t1} {b1 - rx},{t1} L {b0 + rx},{t1} Q {b0},{t1} {b0},{t1 + ry} "
                    f"L {b0},{t0 - ry} Q {b0},{t0} {b0 + rx},{t0} Z"))

fig.update_layout(
    width=W, height=H, margin=dict(l=0, r=0, t=0, b=0, autoexpand=False), showlegend=False,
    paper_bgcolor="white", plot_bgcolor="white",
    coloraxis=dict(cmin=0, cmax=1, colorscale=[[0, PURPLE], [1, GOLD]],
                   colorbar=dict(orientation="h", x=909 / W, xanchor="left", y=1 - 1937 / H, yanchor="bottom",
                                 len=379, lenmode="pixels", thickness=26, thicknessmode="pixels",
                                 tickvals=[], outlinecolor="#222222", outlinewidth=2.5, xpad=0, ypad=0)),
)

# the page's default body margin would push the figure out of the window
fig.write_html("out.html", config={"displayModeBar": False}, post_script="document.body.style.margin = '0';")
